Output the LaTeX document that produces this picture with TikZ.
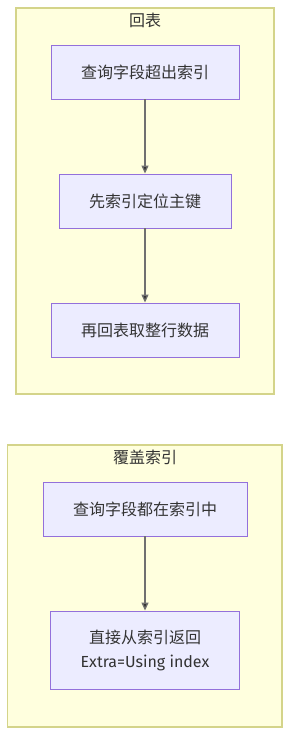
\documentclass[tikz,border=0pt]{standalone}
\usepackage{fontspec}
\setmainfont{Fira Sans}
\newfontfamily\cjk{Noto Sans CJK SC}
\usetikzlibrary{arrows.meta}

\definecolor{clusterfill}{HTML}{FFFFDE}
\definecolor{clusterline}{HTML}{D4D48A}
\definecolor{stepfill}{HTML}{ECECFF}
\definecolor{stepline}{HTML}{9370DB}
\definecolor{linkline}{HTML}{333333}

\begin{document}
\begin{tikzpicture}[
  x=1pt, y=-1pt,
  cluster/.style={
    draw=clusterline,
    line width=1.2pt,
    fill=clusterfill,
    inner sep=0pt
  },
  title/.style={
    font=\fontsize{16}{18}\selectfont\cjk,
    text=linkline
  },
  stepbox/.style={
    draw=stepline,
    line width=0.9pt,
    fill=stepfill,
    minimum height=54pt,
    align=center,
    text=linkline,
    font=\fontsize{16}{24}\selectfont\cjk
  },
  link/.style={-{Triangle[length=8pt,width=7pt]},line width=1.3pt,draw=linkline!70,fill=linkline}
]
  \useasboundingbox (0,0) rectangle (290,735);

  % first group
  \node[cluster,minimum width=258pt,minimum height=386pt] (huibiao) at (145,201) {};
  \node[title] (huibiaotitle) at (145,20) {回表};
  \node[stepbox,minimum width=188pt] (query) at (145,72) {查询字段超出索引};
  \node[stepbox,minimum width=172pt] (locate) at (145,201) {先索引定位主键};
  \node[stepbox,minimum width=188pt] (fetch) at (145,330) {再回表取整行数据};

  % second group
  \node[cluster,minimum width=274.5pt,minimum height=282pt] (cover) at (144.75,586) {};
  \node[title] (covertitle) at (145,457) {覆盖索引};
  \node[stepbox,minimum width=204pt] (covered) at (145,509) {查询字段都在索引中};
  \node[stepbox,minimum width=189pt,minimum height=78pt] (direct) at (145,650)
    {直接从索引返回\\{\fontspec{Fira Sans}Extra=Using index}};

  \path[link]
    (query) edge (locate)
    (locate) edge (fetch)
    (covered) edge (direct);
\end{tikzpicture}
\end{document}
